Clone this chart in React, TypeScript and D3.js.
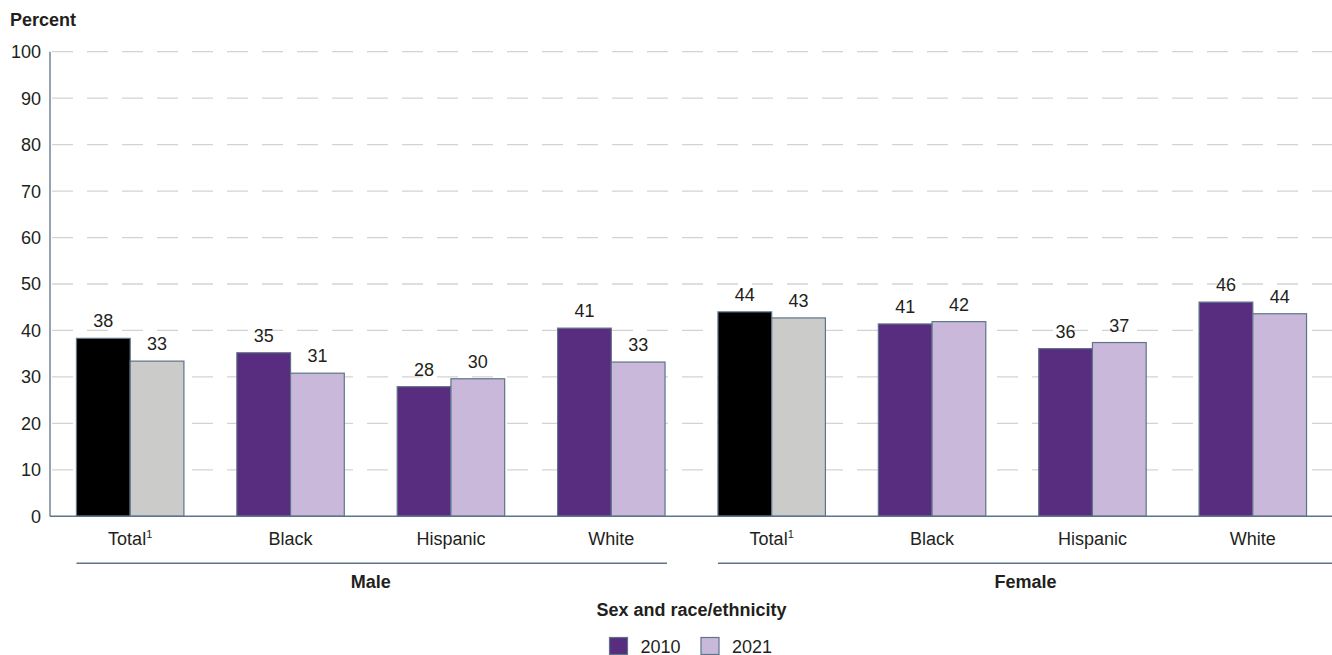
import React from "react";
import * as d3 from "d3";

// Percent by sex and race/ethnicity, 2010 vs 2021
const sexes = ["Male", "Female"];
const groups = ["Total", "Black", "Hispanic", "White"];
const values2010 = [38.3, 35.2, 27.9, 40.5, 44.0, 41.4, 36.1, 46.1];
const values2021 = [33.4, 30.8, 29.6, 33.2, 42.7, 41.9, 37.4, 43.6];
const yTicks = [0, 10, 20, 30, 40, 50, 60, 70, 80, 90, 100];
const years = ["2010", "2021"];

const W = 1332;
const H = 655;
const FONT = "'Liberation Sans', Arial, Helvetica, sans-serif";
const TEXT = "#231f20";
const EDGE = "#5d7489";
const PURPLE = "#582c7e";
const LAVENDER = "#c9b8d9";
const BLACK = "#000000";
const GREY = "#cbcbca";

export default function App() {
  const left = 50;
  const right = 1333;
  const y = d3.scaleLinear().domain([0, 100]).range([516.3, 51.7]);

  const cats = sexes.flatMap((s) => groups.map((g) => `${s}-${g}`));
  const x0 = d3
    .scaleBand<string>()
    .domain(cats)
    .range([left, right])
    .paddingInner(0.33)
    .paddingOuter(0.165);
  const x1 = d3
    .scaleBand<string>()
    .domain(years)
    .range([0, x0.bandwidth()]);

  const rows = cats.map((c, i) => ({
    key: c,
    sex: sexes[Math.floor(i / groups.length)],
    group: groups[i % groups.length],
    v: [values2010[i], values2021[i]],
  }));

  const fillFor = (group: string, yi: number) =>
    group === "Total" ? (yi === 0 ? BLACK : GREY) : yi === 0 ? PURPLE : LAVENDER;

  return (
    <svg
      width={W}
      height={H}
      style={{ position: "absolute", left: 0, top: 0, background: "#fff" }}
      fontFamily={FONT}
    >
      <text x={10} y={26} fontSize={18} fontWeight="bold" fill={TEXT}>
        Percent
      </text>

      {/* gridlines */}
      {yTicks
        .filter((t) => t > 0)
        .map((t) => (
          <line
            key={`g${t}`}
            x1={left + 2}
            x2={W}
            y1={y(t)}
            y2={y(t)}
            stroke="#d3d3d3"
            strokeWidth={1.3}
            strokeDasharray="21 14"
          />
        ))}

      {/* y tick labels */}
      {yTicks.map((t) => (
        <text
          key={`t${t}`}
          x={41}
          y={y(t)}
          dy="0.36em"
          textAnchor="end"
          fontSize={18}
          fill={TEXT}
        >
          {t}
        </text>
      ))}

      {/* bars */}
      {rows.map((r) =>
        r.v.map((v, yi) => {
          const bx = (x0(r.key) as number) + (x1(years[yi]) as number);
          return (
            <g key={`${r.key}-${yi}`}>
              <rect
                x={bx}
                y={y(v)}
                width={x1.bandwidth()}
                height={y(0) - y(v)}
                fill={fillFor(r.group, yi)}
                stroke={EDGE}
                strokeWidth={1.2}
              />
              <text
                x={bx + x1.bandwidth() / 2}
                y={y(v) - 11}
                textAnchor="middle"
                fontSize={18}
                fill={TEXT}
              >
                {Math.round(v)}
              </text>
            </g>
          );
        })
      )}

      {/* axes */}
      <line x1={left} x2={left} y1={y(100)} y2={y(0)} stroke={EDGE} strokeWidth={1.3} />
      <line x1={left} x2={W} y1={y(0)} y2={y(0)} stroke={EDGE} strokeWidth={1.5} />

      {/* category labels */}
      {rows.map((r) => (
        <text
          key={`c${r.key}`}
          x={(x0(r.key) as number) + x0.bandwidth() / 2}
          y={545}
          textAnchor="middle"
          fontSize={18}
          fill={TEXT}
        >
          {r.group}
          {r.group === "Total" && (
            <tspan fontSize={11} dy={-7}>
              1
            </tspan>
          )}
        </text>
      ))}

      {/* sex group brackets: each runs up to the start of the next group, the last to the edge */}
      {sexes.map((s, si) => {
        const first = x0(`${s}-${groups[0]}`) as number;
        const end =
          si < sexes.length - 1
            ? (x0(`${sexes[si + 1]}-${groups[0]}`) as number) - 51
            : right;
        const labelMid =
          (first + (x0(`${s}-${groups[groups.length - 1]}`) as number) + x0.bandwidth()) / 2;
        return (
          <g key={`s${s}`}>
            <line x1={first} x2={end} y1={563.3} y2={563.3} stroke={EDGE} strokeWidth={1.5} />
            <text
              x={si < sexes.length - 1 ? labelMid : (first + right) / 2}
              y={588}
              textAnchor="middle"
              fontSize={18}
              fontWeight="bold"
              fill={TEXT}
            >
              {s}
            </text>
          </g>
        );
      })}

      <text
        x={(left + right) / 2}
        y={616}
        textAnchor="middle"
        fontSize={18}
        fontWeight="bold"
        fill={TEXT}
      >
        Sex and race/ethnicity
      </text>

      {/* legend */}
      {years.map((yr, i) => {
        const lx = 609.5 + i * 91.5;
        return (
          <g key={`l${yr}`}>
            <rect
              x={lx}
              y={637.5}
              width={18}
              height={17}
              fill={i === 0 ? PURPLE : LAVENDER}
              stroke={EDGE}
              strokeWidth={1.2}
            />
            <text x={lx + 31} y={652.5} fontSize={18} fill={TEXT}>
              {yr}
            </text>
          </g>
        );
      })}
    </svg>
  );
}
